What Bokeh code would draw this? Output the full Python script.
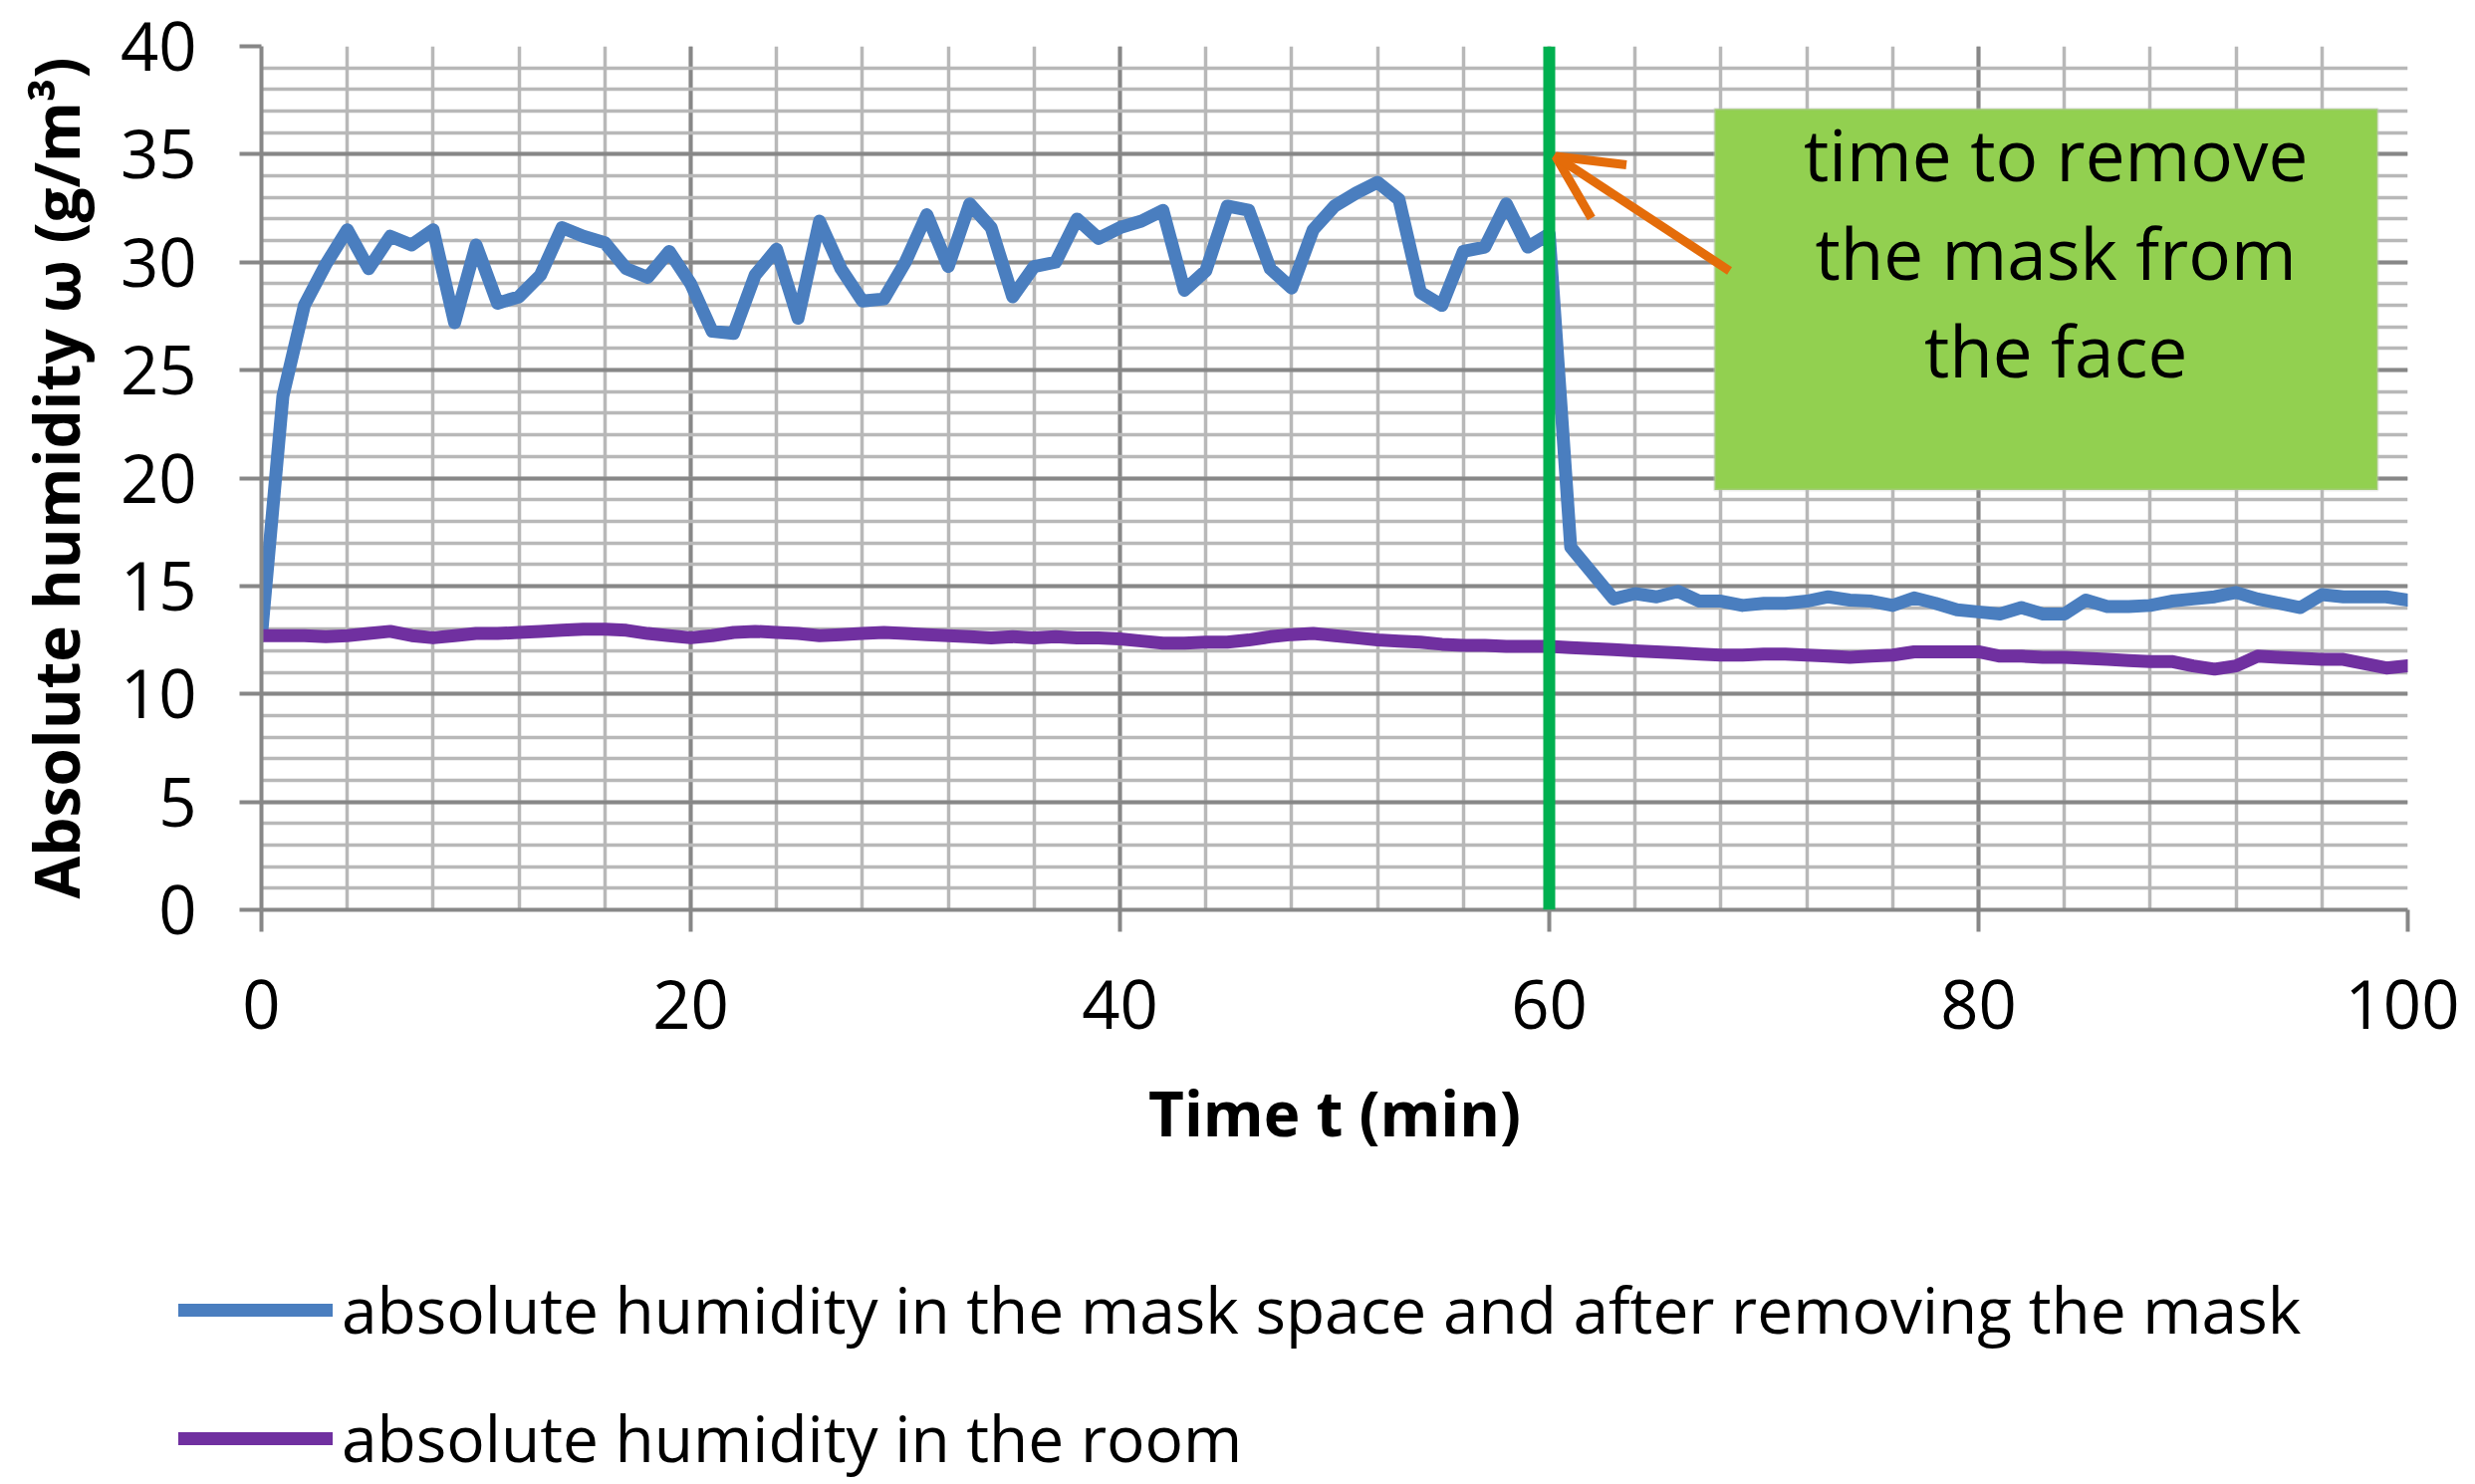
from bokeh.plotting import figure
from bokeh.models import (Span, BoxAnnotation, Label, Arrow, OpenHead,
                          Legend, LegendItem, SingleIntervalTicker, Range1d)
from bokeh.embed import file_html
from bokeh.resources import INLINE

# ---------------- data ----------------
time_min = list(range(0, 101))

mask_humidity = [
    12.7, 23.8, 28.0, 29.9, 31.5, 29.7, 31.2, 30.8, 31.5, 27.2,
    30.8, 28.1, 28.4, 29.4, 31.6, 31.2, 30.9, 29.7, 29.3, 30.5,
    29.0, 26.8, 26.7, 29.4, 30.6, 27.4, 31.9, 29.7, 28.2, 28.3,
    30.0, 32.2, 29.8, 32.7, 31.6, 28.4, 29.8, 30.0, 32.0, 31.1,
    31.6, 31.9, 32.4, 28.7, 29.6, 32.6, 32.4, 29.7, 28.8, 31.5,
    32.6, 33.2, 33.7, 32.9, 28.6, 28.0, 30.5, 30.7, 32.7, 30.7,
    31.3, 16.8, 15.6, 14.4, 14.65, 14.5, 14.75, 14.3, 14.3, 14.1,
    14.2, 14.2, 14.3, 14.5, 14.35, 14.3, 14.1, 14.45, 14.2, 13.9,
    13.8, 13.7, 14.0, 13.7, 13.7, 14.35, 14.05, 14.05, 14.1, 14.3,
    14.4, 14.5, 14.7, 14.4, 14.2, 14.0, 14.6, 14.5, 14.5, 14.5,
    14.35,
]

room_humidity = [
    12.7, 12.7, 12.7, 12.65, 12.7, 12.8, 12.9, 12.7, 12.6, 12.7,
    12.8, 12.8, 12.85, 12.9, 12.95, 13.0, 13.0, 12.95, 12.8, 12.7,
    12.6, 12.7, 12.85, 12.9, 12.85, 12.8, 12.7, 12.75, 12.8, 12.85,
    12.8, 12.75, 12.7, 12.65, 12.6, 12.65, 12.6, 12.65, 12.6, 12.6,
    12.55, 12.45, 12.35, 12.35, 12.4, 12.4, 12.5, 12.65, 12.75, 12.8,
    12.7, 12.6, 12.5, 12.45, 12.4, 12.3, 12.25, 12.25, 12.2, 12.2,
    12.2, 12.15, 12.1, 12.05, 12.0, 11.95, 11.9, 11.85, 11.8, 11.8,
    11.85, 11.85, 11.8, 11.75, 11.7, 11.75, 11.8, 11.95, 11.95, 11.95,
    11.95, 11.75, 11.75, 11.7, 11.7, 11.65, 11.6, 11.55, 11.5, 11.5,
    11.3, 11.15, 11.3, 11.75, 11.7, 11.65, 11.6, 11.6, 11.4, 11.2,
    11.3,
]

removal_time = 60
annotation_lines = ["time to remove", "the mask from", "the face"]
series_labels = ["absolute humidity in the mask space and after removing the mask",
                 "absolute humidity in the room"]
series_colors = ["#4a7ebf", "#7030a0"]
x_label = "Time t (min)"
y_label = "Absolute humidity \u03c9 (g/m\u00b3)"

W = 2469
H_MAIN = 1220
H_LEG = 268

# ---------------- main figure ----------------
p = figure(width=W, height=H_MAIN,
           x_range=Range1d(0, 100), y_range=Range1d(0, 40),
           output_backend="svg", toolbar_location=None,
           min_border_left=262, min_border_right=52,
           min_border_top=46, min_border_bottom=H_MAIN - 913)
p.outline_line_color = None
p.background_fill_color = "white"

p.xaxis.ticker = SingleIntervalTicker(interval=20, num_minor_ticks=5)
p.yaxis.ticker = SingleIntervalTicker(interval=5, num_minor_ticks=5)

for g in (p.xgrid, p.ygrid):
    g.grid_line_color = "#878787"
    g.grid_line_width = 4
    g.minor_grid_line_color = "#b8b8b8"
    g.minor_grid_line_width = 3.5

for ax in (p.xaxis, p.yaxis):
    ax.axis_line_color = "#878787"
    ax.axis_line_width = 4
    ax.major_tick_line_color = "#878787"
    ax.major_tick_line_width = 4
    ax.major_tick_out = 22
    ax.major_tick_in = 0
    ax.minor_tick_line_color = None
    ax.major_label_text_font = "Open Sans"
    ax.major_label_text_font_size = "67px"
    ax.major_label_text_color = "black"
    ax.axis_label_text_font = "Open Sans"
    ax.axis_label_text_font_size = "62px"
    ax.axis_label_text_font_style = "bold"
    ax.axis_label_text_color = "black"

p.xaxis.axis_label = x_label
p.yaxis.axis_label = y_label
p.xaxis.major_label_standoff = 48
p.yaxis.major_label_standoff = 43
p.xaxis.axis_label_standoff = 39
p.yaxis.axis_label_standoff = 20

r1 = p.line(time_min, mask_humidity, line_color=series_colors[0], line_width=13,
            line_join="round", line_cap="round")
r2 = p.line(time_min, room_humidity, line_color=series_colors[1], line_width=13,
            line_join="round", line_cap="round")

# green box with text
box = BoxAnnotation(left=67.7, right=98.6, bottom=19.45, top=37.1,
                    fill_color="#92d050", fill_alpha=1.0,
                    line_color="#c3c3c3", line_width=3)
p.add_layout(box)

for txt, yb in zip(annotation_lines, [35.0, 30.43, 25.91]):
    p.add_layout(Label(x=83.6, y=yb, text=txt, text_align="center",
                       text_baseline="alphabetic", text_font="Open Sans",
                       text_font_size="71px", text_color="black"))

# green vertical line at removal time
p.add_layout(Span(location=removal_time, dimension="height",
                  line_color="#00b050", line_width=12))

# orange arrow
p.add_layout(Arrow(end=OpenHead(size=64, line_color="#e46c0a", line_width=9),
                   x_start=68.4, y_start=29.6, x_end=60.3, y_end=34.9,
                   line_color="#e46c0a", line_width=9))

# ---------------- legend strip (separate root, drawn under the chart) ----------------
pl = figure(width=W, height=H_LEG, x_range=Range1d(0, 1), y_range=Range1d(0, 1),
            output_backend="svg", toolbar_location=None, min_border=0,
            x_axis_type=None, y_axis_type=None)
pl.outline_line_color = None
pl.xgrid.visible = False
pl.ygrid.visible = False
# same series as in the chart; they lie outside this strip's ranges, so only
# their legend swatches are visible
l1 = pl.line(time_min, mask_humidity, line_color=series_colors[0], line_width=13,
             line_cap="round")
l2 = pl.line(time_min, room_humidity, line_color=series_colors[1], line_width=13,
             line_cap="round")

legend = Legend(items=[LegendItem(label=series_labels[0], renderers=[l1]),
                       LegendItem(label=series_labels[1], renderers=[l2])],
                location=(179, 1), orientation="vertical",
                glyph_width=155, glyph_height=80, label_height=80,
                label_standoff=9, spacing=42, padding=0, margin=0,
                border_line_alpha=0, background_fill_alpha=0,
                label_text_font="Open Sans", label_text_font_size="64px",
                label_text_color="black")
pl.add_layout(legend)

open("out.html", "w").write(file_html((p, pl), INLINE))
